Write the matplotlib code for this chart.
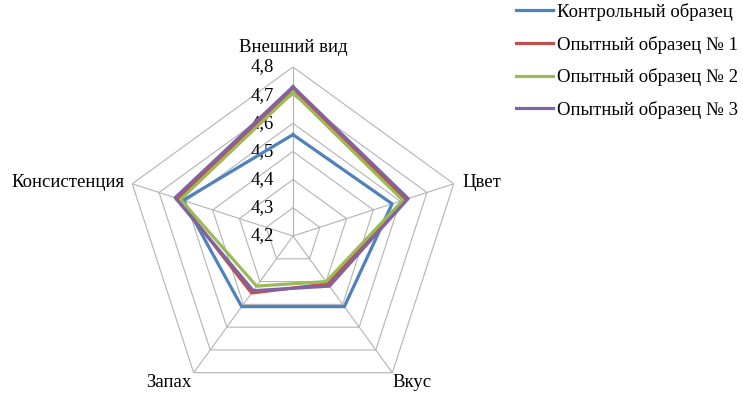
import numpy as np
import matplotlib
matplotlib.use('Agg')
import matplotlib.pyplot as plt

plt.rcParams['font.family'] = ['Liberation Serif', 'DejaVu Serif']

categories = ['Внешний вид', 'Цвет', 'Вкус', 'Запах', 'Консистенция']
series_names = ['Контрольный образец', 'Опытный образец № 1',
                'Опытный образец № 2', 'Опытный образец № 3']
control = [4.56, 4.57, 4.51, 4.51, 4.61]
sample1 = [4.72, 4.62, 4.41, 4.45, 4.63]
sample2 = [4.71, 4.61, 4.40, 4.42, 4.62]
sample3 = [4.73, 4.63, 4.42, 4.44, 4.64]
ring_values = [4.2, 4.3, 4.4, 4.5, 4.6, 4.7, 4.8]
ring_labels = ['4,2', '4,3', '4,4', '4,5', '4,6', '4,7', '4,8']

colors = ['#4F81BD', '#C0504D', '#9BBB59', '#8064A2']
fs = 13.5

fig = plt.figure(figsize=(7.43, 3.96), dpi=100)
# centre of the chart at (293, 236) px, radius 169 px
cx, cy, rad = 293 / 743, 1 - 236 / 396, 169
ax = fig.add_axes([cx - rad / 743, cy - rad / 396, 2 * rad / 743, 2 * rad / 396],
                  projection='polar')
ax.set_theta_zero_location('N')
ax.set_theta_direction(-1)
ax.set_ylim(ring_values[0], ring_values[-1])
ax.set_axis_off()

angles = np.linspace(0, 2 * np.pi, len(categories), endpoint=False)
closed = np.append(angles, angles[0])

grid_color = '#b3b3b3'
for v in ring_values[1:]:
    ax.plot(closed, [v] * len(closed), color=grid_color, lw=0.8, zorder=1)
for a in angles:
    ax.plot([a, a], [ring_values[0], ring_values[-1]], color=grid_color, lw=0.8, zorder=1)

for v, lab in zip(ring_values, ring_labels):
    ax.annotate(lab, xy=(0, v), xytext=(-19, 0), textcoords='offset pixels',
                ha='right', va='center', fontsize=fs)

label_pos = [((0, 19), 'center', 'center'),
             ((9, 1), 'left', 'center'),
             ((0, -10), 'left', 'center'),
             ((-2, -10), 'right', 'center'),
             ((-8, 1), 'right', 'center')]
for a, cat, (off, ha, va) in zip(angles, categories, label_pos):
    ax.annotate(cat, xy=(a, ring_values[-1]), xytext=off, textcoords='offset pixels',
                ha=ha, va=va, fontsize=fs)

handles = []
for vals, name, c in zip([control, sample1, sample2, sample3], series_names, colors):
    line, = ax.plot(closed, vals + [vals[0]], color=c, lw=2.3, label=name, zorder=3)
    handles.append(line)

fig.legend(handles=handles, loc='upper left', bbox_to_anchor=(0.672, 1.035),
           frameon=False, fontsize=fs, handlelength=1.95, handletextpad=0.25,
           labelspacing=0.78)

plt.savefig('out.png', dpi=100)
